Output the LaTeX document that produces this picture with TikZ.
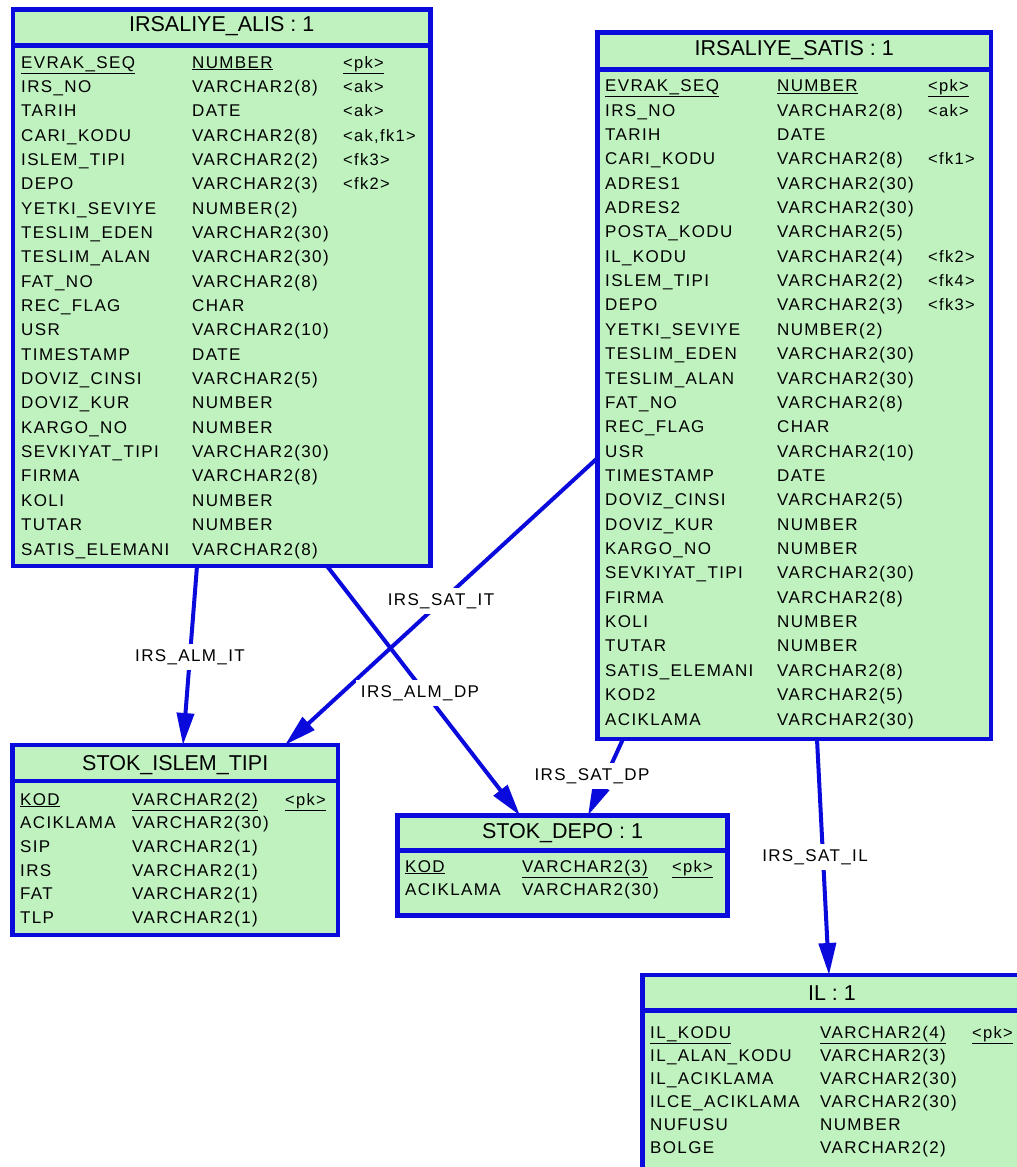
\documentclass[tikz,border=0pt]{standalone}
\usepackage{fontspec}
\setmainfont{Liberation Sans}
\newfontfamily\rowfam{Liberation Sans}[LetterSpace=8]
\usetikzlibrary{arrows.meta}
\definecolor{erblue}{RGB}{10,10,220}
\definecolor{ergreen}{RGB}{192,242,192}
\tikzset{
  tbl/.style={draw=erblue, fill=ergreen, line width=4.5pt, rectangle, inner sep=0pt, outer sep=0pt, anchor=north west},
  sepline/.style={draw=erblue, line width=4.5pt},
  ttl/.style={font=\fontsize{21.5}{21.5}\selectfont, anchor=base, inner sep=0pt},
  cell/.style={font=\rowfam\fontsize{17}{17}\selectfont, anchor=base west, inner sep=0pt},
  keycell/.style={font=\rowfam\fontsize{16.5}{16.5}\selectfont, anchor=base west, inner sep=0pt},
  conn/.style={draw=erblue, line width=4pt, -{Triangle[length=32pt,width=17pt]}},
  lbl/.style={font=\rowfam\fontsize{17}{17}\selectfont, fill=white, inner sep=5pt},
}
% #1 name, #2 box left, #3 first baseline, #4 pitch, #5 #6 #7 column offsets, #8 rows
\newcommand\erows[8]{%
  \foreach \fa/\fb/\fc [count=\ri from 0] in {#8}{%
    \pgfmathsetmacro\yy{#3+\ri*#4}%
    \pgfmathsetmacro\xa{#2+#5}%
    \pgfmathsetmacro\xb{#2+#6}%
    \pgfmathsetmacro\xc{#2+#7}%
    \ifnum\ri=0
      \node[cell] (#1-a\ri) at (\xa,\yy) {\underline{\fa}};
      \node[cell] (#1-b\ri) at (\xb,\yy) {\underline{\fb}};
      \node[keycell] (#1-c\ri) at (\xc,\yy) {\underline{\fc}};
    \else
      \node[cell] (#1-a\ri) at (\xa,\yy) {\fa};
      \node[cell] (#1-b\ri) at (\xb,\yy) {\fb};
      \node[keycell] (#1-c\ri) at (\xc,\yy) {\fc};
    \fi
  }}
\begin{document}
\begin{tikzpicture}[x=1pt,y=-1pt]
\useasboundingbox (0,0) rectangle (1017,1167);
\clip (0,0) rectangle (1017,1167);
\fill[white] (0,0) rectangle (1017,1167);

% tables
\node[tbl, minimum width=417.5pt, minimum height=556.5pt] (alis) at (13,9.5) {};
\draw[sepline] ([yshift=-36pt]alis.north west) -- ([yshift=-36pt]alis.north east);
\node[ttl] (alis-t) at (221.75,31.7) {IRSALIYE\_ALIS : 1};

\node[tbl, minimum width=393.5pt, minimum height=706.5pt] (satis) at (597.5,32.5) {};
\draw[sepline] ([yshift=-37pt]satis.north west) -- ([yshift=-37pt]satis.north east);
\node[ttl] (satis-t) at (794.25,55) {IRSALIYE\_SATIS : 1};

\node[tbl, minimum width=325.5pt, minimum height=190pt] (islem) at (12.5,745) {};
\draw[sepline] ([yshift=-36pt]islem.north west) -- ([yshift=-36pt]islem.north east);
\node[ttl] (islem-t) at (175.25,770) {STOK\_ISLEM\_TIPI};

\node[tbl, minimum width=330pt, minimum height=100pt] (depo) at (397.5,815.5) {};
\draw[sepline] ([yshift=-35pt]depo.north west) -- ([yshift=-35pt]depo.north east);
\node[ttl] (depo-t) at (562.5,838) {STOK\_DEPO : 1};

\node[tbl, minimum width=379.5pt, minimum height=210pt] (il) at (642.5,975) {};
\draw[sepline] ([yshift=-35.5pt]il.north west) -- ([yshift=-35.5pt]il.north east);
\node[ttl] (il-t) at (832,1000) {IL : 1};

% rows
\erows{alis}{13}{68}{24.35}{8}{179}{330}{%
EVRAK\_SEQ/NUMBER/<pk>,
IRS\_NO/VARCHAR2(8)/<ak>,
TARIH/DATE/<ak>,
CARI\_KODU/VARCHAR2(8)/<ak{,}fk1>,
ISLEM\_TIPI/VARCHAR2(2)/<fk3>,
DEPO/VARCHAR2(3)/<fk2>,
YETKI\_SEVIYE/NUMBER(2)/{},
TESLIM\_EDEN/VARCHAR2(30)/{},
TESLIM\_ALAN/VARCHAR2(30)/{},
FAT\_NO/VARCHAR2(8)/{},
REC\_FLAG/CHAR/{},
USR/VARCHAR2(10)/{},
TIMESTAMP/DATE/{},
DOVIZ\_CINSI/VARCHAR2(5)/{},
DOVIZ\_KUR/NUMBER/{},
KARGO\_NO/NUMBER/{},
SEVKIYAT\_TIPI/VARCHAR2(30)/{},
FIRMA/VARCHAR2(8)/{},
KOLI/NUMBER/{},
TUTAR/NUMBER/{},
SATIS\_ELEMANI/VARCHAR2(8)/{}}

\erows{satis}{597.5}{91.7}{24.36}{7.5}{179.5}{330.5}{%
EVRAK\_SEQ/NUMBER/<pk>,
IRS\_NO/VARCHAR2(8)/<ak>,
TARIH/DATE/{},
CARI\_KODU/VARCHAR2(8)/<fk1>,
ADRES1/VARCHAR2(30)/{},
ADRES2/VARCHAR2(30)/{},
POSTA\_KODU/VARCHAR2(5)/{},
IL\_KODU/VARCHAR2(4)/<fk2>,
ISLEM\_TIPI/VARCHAR2(2)/<fk4>,
DEPO/VARCHAR2(3)/<fk3>,
YETKI\_SEVIYE/NUMBER(2)/{},
TESLIM\_EDEN/VARCHAR2(30)/{},
TESLIM\_ALAN/VARCHAR2(30)/{},
FAT\_NO/VARCHAR2(8)/{},
REC\_FLAG/CHAR/{},
USR/VARCHAR2(10)/{},
TIMESTAMP/DATE/{},
DOVIZ\_CINSI/VARCHAR2(5)/{},
DOVIZ\_KUR/NUMBER/{},
KARGO\_NO/NUMBER/{},
SEVKIYAT\_TIPI/VARCHAR2(30)/{},
FIRMA/VARCHAR2(8)/{},
KOLI/NUMBER/{},
TUTAR/NUMBER/{},
SATIS\_ELEMANI/VARCHAR2(8)/{},
KOD2/VARCHAR2(5)/{},
ACIKLAMA/VARCHAR2(30)/{}}

\erows{islem}{12.5}{805}{23.7}{7.5}{119.5}{272.5}{%
KOD/VARCHAR2(2)/<pk>,
ACIKLAMA/VARCHAR2(30)/{},
SIP/VARCHAR2(1)/{},
IRS/VARCHAR2(1)/{},
FAT/VARCHAR2(1)/{},
TLP/VARCHAR2(1)/{}}

\erows{depo}{397.5}{872}{23}{7.5}{124.5}{274.5}{%
KOD/VARCHAR2(3)/<pk>,
ACIKLAMA/VARCHAR2(30)/{}}

\erows{il}{642.5}{1038}{23}{7.5}{177.5}{329.5}{%
IL\_KODU/VARCHAR2(4)/<pk>,
IL\_ALAN\_KODU/VARCHAR2(3)/{},
IL\_ACIKLAMA/VARCHAR2(30)/{},
ILCE\_ACIKLAMA/VARCHAR2(30)/{},
NUFUSU/NUMBER/{},
BOLGE/VARCHAR2(2)/{}}

% connectors
\draw[conn] ([xshift=184pt]alis.south west) -- ([xshift=170.5pt]islem.north west);
\draw[conn] ([xshift=314pt]alis.south west) -- ([xshift=122.5pt]depo.north west);
\draw[conn] ([yshift=-425.5pt]satis.north west) -- ([xshift=272.5pt]islem.north west);
\draw[conn] ([xshift=25.5pt]satis.south west) -- ([xshift=190.5pt]depo.north west);
\draw[conn] ([xshift=219.5pt]satis.south west) -- ([xshift=186.5pt]il.north west);

% connector labels
\node[lbl] (l-alm-it) at (190,657) {IRS\_ALM\_IT};
\node[lbl] (l-sat-it) at (441,601) {IRS\_SAT\_IT};
\node[lbl] (l-alm-dp) at (420,693) {IRS\_ALM\_DP};
\node[lbl] (l-sat-dp) at (592,776) {IRS\_SAT\_DP};
\node[lbl] (l-sat-il) at (815,857) {IRS\_SAT\_IL};
\end{tikzpicture}
\end{document}
